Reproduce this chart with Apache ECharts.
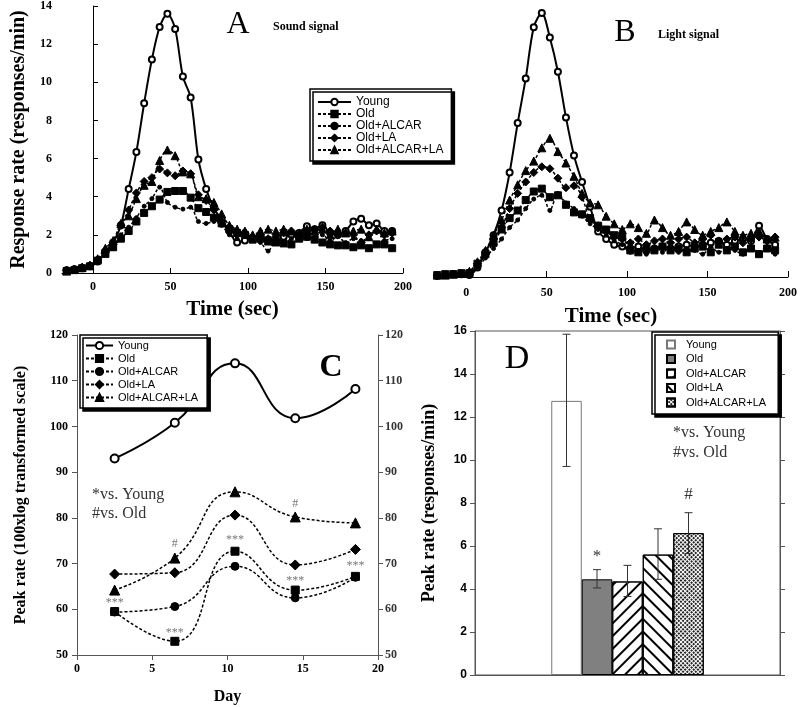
<!DOCTYPE html>
<html><head><meta charset="utf-8">
<script src="https://cdn.jsdelivr.net/npm/echarts@6/dist/echarts.min.js"></script>
<style>html,body{margin:0;padding:0;background:#fff}#c{width:800px;height:707px}</style>
</head><body><div id="c"></div><script>
// ---------- DATA ----------
const groups = ['Young','Old','Old+ALCAR','Old+LA','Old+ALCAR+LA'];
const timeTicks = [0,50,100,150,200];
// Panel A (sound signal)
const tA = [-17,-12,-7,-2,3,8,13,18,23,28,33,38,43,48,53,58,63,68,73,78,83,88,93,98,103,108,113,118,123,128,133,138,143,148,153,158,163,168,173,178,183,188,193];
const aYoung = [0.15,0.2,0.25,0.35,0.6,1.1,1.6,2.5,4.4,6.35,8.9,11.2,12.9,13.6,12.8,10.3,9.2,5.95,4.4,3.4,2.8,2.2,1.6,1.7,1.85,1.8,1.75,1.7,1.9,2.0,2.1,2.45,2.3,2.5,2.1,2.0,2.2,2.7,2.85,2.5,2.6,2.2,2.2];
const aOld = [0.1,0.15,0.25,0.35,0.65,1.0,1.35,1.8,2.2,2.7,3.15,3.5,3.85,4.25,4.3,4.3,3.95,3.4,3.2,2.9,2.6,2.3,2.1,2.0,1.75,1.8,1.65,1.6,1.55,1.5,1.8,1.9,1.75,1.6,1.5,1.45,1.45,1.35,1.45,1.3,1.5,1.5,1.3];
const aALCAR = [0.1,0.2,0.25,0.3,0.6,1.1,1.3,2.0,2.4,2.9,3.5,3.9,4.5,3.7,3.45,3.35,3.45,2.7,2.6,2.7,2.5,2.0,1.8,2.2,1.8,1.6,1.15,1.7,1.6,1.8,2.0,1.8,1.9,2.0,1.7,1.9,1.6,1.8,1.7,1.8,1.5,1.7,1.8];
const aLA = [0.15,0.2,0.3,0.4,0.7,1.2,1.6,2.5,3.3,4.2,4.8,5.0,5.45,5.25,5.1,5.35,5.2,4.1,3.8,3.3,2.7,2.4,2.1,2.0,1.9,2.0,1.8,1.9,2.1,2.2,2.0,2.2,2.3,2.4,2.2,2.0,2.1,2.0,1.6,2.0,2.2,2.0,2.1];
const aALL = [0.1,0.2,0.3,0.4,0.75,1.3,1.7,2.6,3.0,3.9,4.6,4.8,5.9,6.45,6.15,5.3,5.2,4.0,3.9,3.7,3.1,2.5,2.3,2.2,2.0,2.2,2.3,2.2,2.3,2.2,2.1,2.3,2.2,2.3,2.0,2.3,2.1,2.2,2.3,1.9,2.3,2.1,2.2];
// Panel B (light signal)
const tB = [-18,-13,-8,-3,2,7,12,17,22,27,32,37,42,47,52,57,62,67,72,77,82,87,92,97,102,107,112,117,122,127,132,137,142,147,152,157,162,167,172,177,182,187,192];
const bYoung = [0.05,0.1,0.15,0.15,0.1,0.5,1.3,2.2,3.5,5.5,8.1,10.45,13.15,13.9,12.6,10.8,8.4,6.4,5.0,3.7,2.4,2.0,1.7,1.6,1.5,1.6,1.4,1.5,1.6,1.5,1.6,1.7,1.6,1.7,1.8,1.9,1.7,1.9,2.0,1.9,2.7,2.0,1.7];
const bOld = [0.1,0.15,0.15,0.2,0.2,0.7,1.2,1.8,2.5,3.1,3.5,4.05,4.5,4.65,4.2,4.3,3.8,3.4,3.3,3.1,2.7,2.5,2.2,2.1,1.4,1.3,1.5,1.4,1.6,1.4,1.5,1.3,1.5,1.6,1.3,1.7,1.4,1.6,1.3,1.5,1.2,1.5,1.4];
const bALCAR = [0.05,0.1,0.1,0.15,0.2,0.5,1.0,1.5,2.0,2.6,3.0,3.6,4.1,4.3,3.5,4.4,3.9,3.6,3.2,2.8,2.5,2.2,1.9,1.7,1.3,1.4,1.2,1.5,1.3,1.6,1.3,1.5,1.4,1.2,1.6,1.3,1.5,1.4,1.2,1.5,1.3,1.6,1.2];
const bLA = [0.1,0.1,0.15,0.2,0.25,0.7,1.3,2.0,2.6,3.6,4.4,5.0,5.5,5.8,5.7,5.2,4.7,4.8,4.2,3.0,2.7,2.4,2.1,2.0,1.8,2.0,1.7,1.9,2.0,1.8,2.0,2.1,1.8,2.0,2.2,1.9,2.0,2.1,1.8,2.0,2.1,1.9,2.1];
const bALL = [0.1,0.1,0.15,0.2,0.3,0.8,1.4,2.2,3.0,4.05,4.85,5.6,6.1,6.8,7.3,6.6,6.0,5.3,4.4,3.9,3.8,3.2,2.8,2.5,2.8,2.6,2.3,3.0,2.6,2.2,2.4,2.9,2.5,2.2,2.4,2.6,2.9,2.4,2.2,2.3,2.4,2.0,2.1];
// Panel C (peak rate, log scale)
const days = [2.5,6.5,10.5,14.5,18.5];
const cYoung = [93,100.8,113.8,101.8,108.2];
const cOld = [59.5,53,72.7,64.2,67.2];
const cALCAR = [59.4,60.6,69.4,62.5,67];
const cLA = [67.7,68,80.6,69.7,73.1];
const cALL = [64.2,71.2,85.7,80.2,78.9];
const annCText = ['***','***','#','***','#','***','***'];
const annCX = [2.5,6.5,6.5,10.5,14.5,14.5,18.5];
const annCY = [61.5,54.9,74.3,75.2,83,66.2,69.4];
// Panel D (peak rate, bars)
const dMean = [12.75,4.45,4.35,5.6,6.6];
const dLow = [9.7,4.05,3.65,4.45,5.65];
const dHigh = [15.85,4.9,5.1,6.8,7.55];
const dAnnText = ['','*','','','#'];
const dAnnY = [null,5.5,null,null,8.4];

// ---------- STYLE ----------
const SERIF = '"Liberation Serif", "Times New Roman", serif';
const SANS = '"Liberation Sans", Arial, sans-serif';
const lineStyles = [
  {symbol:'emptyCircle', size:6, type:'solid', width:2},
  {symbol:'rect', size:7, type:[3,2], width:1.5},
  {symbol:'circle', size:4, type:[3,2], width:1.5},
  {symbol:'diamond', size:8, type:[3,2], width:1.5},
  {symbol:'triangle', size:8, type:[3,2], width:1.5}
];
const lineStylesC = [
  {symbol:'emptyCircle', size:8, type:'solid', width:2},
  {symbol:'rect', size:8, type:[3,2], width:1.5},
  {symbol:'circle', size:8, type:[3,2], width:1.5},
  {symbol:'diamond', size:10, type:[3,2], width:1.5},
  {symbol:'triangle', size:10, type:[3,2], width:1.5}
];
const barStyles = [
  {color:'#fff', borderColor:'#777'},
  {color:'#808080', borderColor:'#000'},
  {color:'#fff', borderColor:'#000', decal:{symbol:'rect', dashArrayX:[1,0], dashArrayY:[1.3,7], rotation:-Math.PI/4, color:'#000'}},
  {color:'#fff', borderColor:'#000', decal:{symbol:'rect', dashArrayX:[1,0], dashArrayY:[1.3,7], rotation:Math.PI/4, color:'#000'}},
  {color:'#fff', borderColor:'#000', decal:{symbol:'rect', symbolSize:1, dashArrayX:[2,1], dashArrayY:[2,1], rotation:Math.PI/4, color:'#222'}}
];

function lineSeries(name, xs, ys, st, axisIdx, smooth) {
  return {
    type:'line', name:name, xAxisIndex:axisIdx, yAxisIndex:axisIdx,
    data: xs.map((x,i)=>[x, ys[i]]),
    smooth: smooth, symbol: st.symbol, symbolSize: st.size, showAllSymbol:true,
    lineStyle:{color:'#000', width:st.width, type:st.type},
    itemStyle:{color:'#000', borderColor:'#000', borderWidth:1},
    emphasis:{disabled:true}, z:3
  };
}

const series = [];
[aYoung,aOld,aALCAR,aLA,aALL].forEach((d,i)=>series.push(lineSeries(groups[i], tA, d, lineStyles[i], 0, 0.3)));
[bYoung,bOld,bALCAR,bLA,bALL].forEach((d,i)=>series.push(lineSeries(groups[i], tB, d, lineStyles[i], 1, 0.3)));
const cNames = groups.map(g=>g+' ');
[cYoung,cOld,cALCAR,cLA,cALL].forEach((d,i)=>{
  const s = lineSeries(cNames[i], days, d, lineStylesC[i], 2, 0.5);
  s.yAxisIndex = 2; series.push(s);
});
series.push({
  type:'scatter', xAxisIndex:2, yAxisIndex:2, symbolSize:0, silent:true,
  data: annCText.map((t,i)=>({name:t, value:[annCX[i], annCY[i]]})),
  label:{show:true, position:'inside', formatter:'{b}', color:'#555', fontFamily:SERIF, fontSize:12}
});
const dNames = groups.map(g=>g+'  ');
dMean.forEach((v,i)=>{
  series.push({
    type:'bar', name:dNames[i], xAxisIndex:3, yAxisIndex:4, data:[v],
    barGap:'0%', barCategoryGap:'50%',
    itemStyle:Object.assign({borderWidth:1}, barStyles[i]),
    emphasis:{disabled:true}
  });
});
series.push({
  type:'custom', xAxisIndex:3, yAxisIndex:4, silent:true, z:5,
  data: dMean.map((v,i)=>[0, v, dLow[i], dHigh[i], i]),
  renderItem: function(params, api){
    const i = params.dataIndex;
    const band = api.size([1,0])[0];
    const bw = band*0.5/5;
    const c = api.coord([0, api.value(1)]);
    const x = c[0] + (i-2)*bw;
    const yl = api.coord([0, api.value(2)])[1];
    const yh = api.coord([0, api.value(3)])[1];
    const st = {stroke:'#333', lineWidth:1};
    const ch = [
      {type:'line', shape:{x1:x,y1:yl,x2:x,y2:yh}, style:st},
      {type:'line', shape:{x1:x-4,y1:yl,x2:x+4,y2:yl}, style:st},
      {type:'line', shape:{x1:x-4,y1:yh,x2:x+4,y2:yh}, style:st}
    ];
    if (dAnnText[i]) {
      const ya = api.coord([0, dAnnY[i]])[1];
      ch.push({type:'text', x:x, y:ya, style:{text:dAnnText[i], fill:'#333', font:'17px '+SERIF, align:'center', verticalAlign:'middle'}});
    }
    return {type:'group', children:ch};
  }
});

const axisBlack = {lineStyle:{color:'#000', width:1}};
const tickLabelSerif = {fontFamily:SERIF, fontWeight:'bold', fontSize:12, color:'#000'};
const option = {
  animation:false,
  backgroundColor:'#fff',
  grid:[
    {left:62, top:6, width:341, height:267},
    {left:434, top:11, width:354, height:266},
    {left:77, top:335, width:301, height:320},
    {left:475, top:331, width:305, height:344, show:true, borderColor:'#555', borderWidth:1}
  ],
  xAxis:[
    {gridIndex:0, type:'value', min:-20, max:200, axisLine:axisBlack,
     axisTick:{inside:true, length:5, customValues:timeTicks, lineStyle:{color:'#000'}},
     axisLabel:Object.assign({customValues:timeTicks, margin:8}, tickLabelSerif), splitLine:{show:false},
     name:'Time (sec)', nameLocation:'middle', nameGap:26, nameTextStyle:{fontFamily:SERIF, fontWeight:'bold', fontSize:21, color:'#000'}},
    {gridIndex:1, type:'value', min:-20, max:200, axisLine:axisBlack,
     axisTick:{inside:true, length:6, customValues:timeTicks, lineStyle:{color:'#000'}},
     axisLabel:Object.assign({customValues:timeTicks, margin:10}, tickLabelSerif), splitLine:{show:false},
     name:'Time (sec)', nameLocation:'middle', nameGap:29, nameTextStyle:{fontFamily:SERIF, fontWeight:'bold', fontSize:21, color:'#000'}},
    {gridIndex:2, type:'value', min:0, max:20, interval:5, axisLine:{lineStyle:{color:'#555'}},
     axisTick:{length:5, lineStyle:{color:'#555'}}, axisLabel:Object.assign({margin:8}, tickLabelSerif), splitLine:{show:false},
     name:'Day', nameLocation:'middle', nameGap:34, nameTextStyle:{fontFamily:SERIF, fontWeight:'bold', fontSize:16, color:'#000'}},
    {gridIndex:3, type:'category', data:[''], axisLine:{lineStyle:{color:'#555'}}, axisTick:{show:false}, axisLabel:{show:false}}
  ],
  yAxis:[
    {gridIndex:0, type:'value', min:0, max:14, interval:2, axisLine:{show:true, lineStyle:{color:'#000'}},
     axisTick:{show:true, inside:true, length:5, lineStyle:{color:'#000'}}, axisLabel:Object.assign({margin:10}, tickLabelSerif), splitLine:{show:false},
     name:'Response rate (responses/min)', nameLocation:'middle', nameGap:33, nameRotate:90,
     nameTextStyle:{fontFamily:SERIF, fontWeight:'bold', fontSize:20, color:'#000'}},
    {gridIndex:1, type:'value', min:0, max:14, show:false},
    {gridIndex:2, type:'value', min:50, max:120, interval:10, axisLine:{show:true, lineStyle:{color:'#555'}},
     axisTick:{show:true, length:5, lineStyle:{color:'#555'}}, axisLabel:Object.assign({margin:9}, tickLabelSerif), splitLine:{show:false},
     name:'Peak rate (100xlog transformed scale)', nameLocation:'middle', nameGap:48, nameRotate:90,
     nameTextStyle:{fontFamily:SERIF, fontWeight:'bold', fontSize:16, color:'#000'}},
    {gridIndex:2, type:'value', position:'right', min:50, max:120, interval:10, axisLine:{show:true, lineStyle:{color:'#555'}},
     axisTick:{show:true, length:5, lineStyle:{color:'#555'}},
     axisLabel:{margin:7, fontFamily:SERIF, fontWeight:'bold', fontSize:12, color:'#333'}, splitLine:{show:false}},
    {gridIndex:3, type:'value', min:0, max:16, interval:2, axisLine:{show:true, lineStyle:{color:'#555'}},
     axisTick:{show:true, length:5, lineStyle:{color:'#555'}},
     axisLabel:{margin:8, fontFamily:SANS, fontWeight:'bold', fontSize:12, color:'#000'}, splitLine:{show:false},
     name:'Peak rate (responses/min)', nameLocation:'middle', nameGap:37, nameRotate:90,
     nameTextStyle:{fontFamily:SERIF, fontWeight:'bold', fontSize:18, color:'#000'}},
    {gridIndex:3, type:'value', position:'right', min:0, max:16, interval:2, axisLine:{show:true, lineStyle:{color:'#555'}},
     axisTick:{show:true, length:5, lineStyle:{color:'#555'}}, axisLabel:{show:false}, splitLine:{show:false}}
  ],
  legend:[
    {data:groups, orient:'vertical', left:310, top:89, itemWidth:33, itemHeight:8, itemGap:0,
     padding:[7,8,5,7], backgroundColor:'#fff', borderColor:'#000', borderWidth:1.5,
     shadowColor:'#000', shadowBlur:0, shadowOffsetX:3, shadowOffsetY:3,
     textStyle:{fontFamily:SANS, fontSize:12, color:'#000', lineHeight:12}, selectedMode:false},
    {data:cNames, orient:'vertical', left:80, top:335, itemWidth:27, itemHeight:9, itemGap:2,
     padding:[5,6,5,5], backgroundColor:'#fff', borderColor:'#000', borderWidth:1.5,
     shadowColor:'#000', shadowBlur:0, shadowOffsetX:3, shadowOffsetY:3,
     textStyle:{fontFamily:SANS, fontSize:11, color:'#000', lineHeight:11}, selectedMode:false},
    {data:dNames, orient:'vertical', left:652, top:332, icon:'rect', itemWidth:8, itemHeight:8, itemGap:3.5,
     padding:[7,6,6,14], backgroundColor:'#fff', borderColor:'#000', borderWidth:1.5,
     shadowColor:'#000', shadowBlur:0, shadowOffsetX:3, shadowOffsetY:3,
     textStyle:{fontFamily:SANS, fontSize:11, color:'#000', lineHeight:11, padding:[0,0,0,6]}, selectedMode:false}
  ],
  graphic:[
    {type:'text', x:238, y:25, style:{text:'A', font:'32px '+SERIF, fill:'#000', align:'center', verticalAlign:'middle'}},
    {type:'text', x:273, y:27, style:{text:'Sound signal', font:'bold 12px '+SERIF, fill:'#000', verticalAlign:'middle'}},
    {type:'text', x:625, y:33, style:{text:'B', font:'32px '+SERIF, fill:'#000', align:'center', verticalAlign:'middle'}},
    {type:'text', x:658, y:35, style:{text:'Light signal', font:'bold 12px '+SERIF, fill:'#000', verticalAlign:'middle'}},
    {type:'text', x:331, y:368, style:{text:'C', font:'bold 32px '+SERIF, fill:'#000', align:'center', verticalAlign:'middle'}},
    {type:'text', x:517, y:359, style:{text:'D', font:'34px '+SERIF, fill:'#000', align:'center', verticalAlign:'middle'}},
    {type:'text', x:92, y:495, style:{text:'*vs. Young', font:'16px '+SERIF, fill:'#333', verticalAlign:'middle'}},
    {type:'text', x:92, y:514, style:{text:'#vs. Old', font:'16px '+SERIF, fill:'#333', verticalAlign:'middle'}},
    {type:'text', x:673, y:433, style:{text:'*vs. Young', font:'16px '+SERIF, fill:'#333', verticalAlign:'middle'}},
    {type:'text', x:673, y:453, style:{text:'#vs. Old', font:'16px '+SERIF, fill:'#333', verticalAlign:'middle'}}
  ],
  series:series
};
const chart = echarts.init(document.getElementById('c'), null, {renderer:'canvas'});
chart.setOption(option);
</script></body></html>
